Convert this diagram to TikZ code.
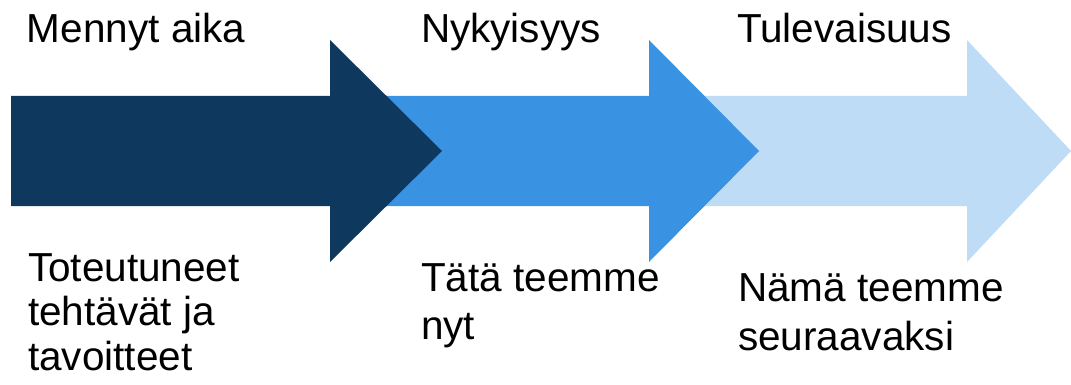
\documentclass[tikz,border=0pt]{standalone}
\usepackage{fontspec}
\setmainfont{Liberation Sans}
\definecolor{pastblue}{RGB}{14,56,94}
\definecolor{nowblue}{RGB}{58,146,226}
\definecolor{futureblue}{RGB}{191,220,246}
\tikzset{
  label text/.style={anchor=base west, inner sep=0pt, outer sep=0pt,
    font=\fontsize{40.5pt}{45pt}\selectfont, align=left, text=black},
}
% arrow: body from #1 to #2, head tip at #3 (all x in px), centre line y=151
\newcommand{\timearrow}[4]{%
  \fill[#4] (#1,96) -- (#2,96) -- (#2,40) -- (#3,151) -- (#2,262) -- (#2,206) -- (#1,206) -- cycle;}
\begin{document}
\begin{tikzpicture}[x=1pt,y=-1pt]
  \useasboundingbox (0,0) rectangle (1071,385);
  % arrows, back to front
  \timearrow{649}{967}{1071}{futureblue}
  \timearrow{330}{649}{759}{nowblue}
  \timearrow{11}{330}{442}{pastblue}
  % headings
  \node[label text] (past) at (27,43) {Mennyt aika};
  \node[label text] (now) at (421,43) {Nykyisyys};
  \node[label text] (future) at (737,43) {Tulevaisuus};
  % descriptions (anchored at the baseline of their last line)
  \node[label text, font=\fontsize{40.5pt}{44.5pt}\selectfont] (pastdesc) at (28,370) {Toteutuneet\\tehtävät ja\\tavoitteet};
  \node[label text, font=\fontsize{40.5pt}{48.5pt}\selectfont] (nowdesc) at (421,339.5) {Tätä teemme\\nyt};
  \node[label text, font=\fontsize{40.5pt}{49pt}\selectfont] (futuredesc) at (738,350.7) {Nämä teemme\\seuraavaksi};
\end{tikzpicture}
\end{document}
